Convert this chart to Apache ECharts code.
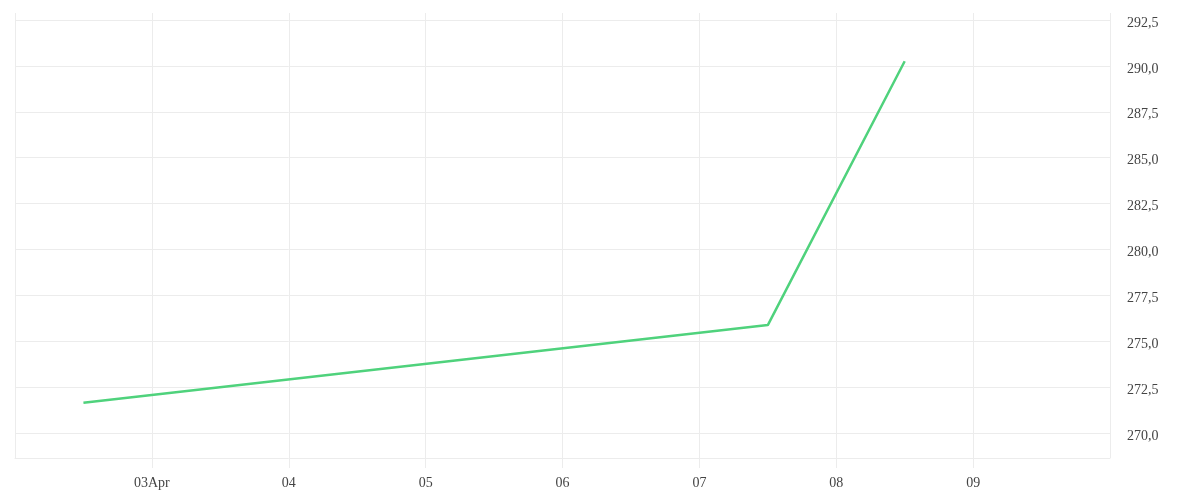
<!DOCTYPE html>
<html>
<head>
<meta charset="utf-8">
<script src="https://cdn.jsdelivr.net/npm/echarts@6/dist/echarts.min.js"></script>
<style>html,body{margin:0;padding:0;background:#fff}#c{width:1200px;height:500px}</style>
</head>
<body>
<div id="c"></div>
<script>
// Data
const pointDates = [[2026, 3, 2, 12], [2026, 3, 7, 12], [2026, 3, 8, 12]]; // year, month(0-based), day, hour
const pointValues = [271.65, 275.88, 290.25];
const xStartDay = 2, xEndDay = 10;
const yTickValues = [270, 272.5, 275, 277.5, 280, 282.5, 285, 287.5, 290, 292.5];
const yMin = 268.64, yMax = 292.88;

const DAY = 86400000;
const ts = (d, h) => new Date(2026, 3, d, h || 0).getTime();
const seriesData = pointDates.map((p, i) => [new Date(p[0], p[1], p[2], p[3]).getTime(), pointValues[i]]);

const font = 'Liberation Serif';
const grid = '#ececec';
const chart = echarts.init(document.getElementById('c'));
chart.setOption({
  animation: false,
  backgroundColor: '#fff',
  grid: { left: 15, right: 90, top: 13, bottom: 42 },
  xAxis: {
    type: 'value',
    min: ts(xStartDay), max: ts(xEndDay),
    interval: DAY,
    axisLine: { show: true, onZero: false, lineStyle: { color: grid, width: 1 } },
    axisTick: { show: true, length: 10, lineStyle: { color: grid } },
    splitLine: { show: true, lineStyle: { color: grid, width: 1 } },
    axisLabel: {
      showMinLabel: false, showMaxLabel: false,
      margin: 18,
      color: '#444', fontFamily: font, fontSize: 14,
      formatter: function (v) {
        const d = new Date(v);
        const dd = String(d.getDate()).padStart(2, '0');
        return d.getDate() === 3 ? dd + 'Apr' : dd;
      }
    }
  },
  yAxis: {
    type: 'value',
    position: 'right',
    min: yMin, max: yMax,
    axisLine: { show: false },
    axisTick: { show: false, customValues: yTickValues },
    splitLine: { show: true, lineStyle: { color: grid, width: 1 } },
    axisLabel: {
      customValues: yTickValues,
      margin: 17,
      verticalAlign: 'top',
      lineHeight: 6,
      color: '#444', fontFamily: font, fontSize: 14,
      formatter: v => v.toFixed(1).replace('.', ',')
    }
  },
  series: [{
    type: 'line',
    data: seriesData,
    showSymbol: false,
    symbol: 'none',
    lineStyle: { color: '#4fd27c', width: 2.5 }
  }]
});
</script>
</body>
</html>
